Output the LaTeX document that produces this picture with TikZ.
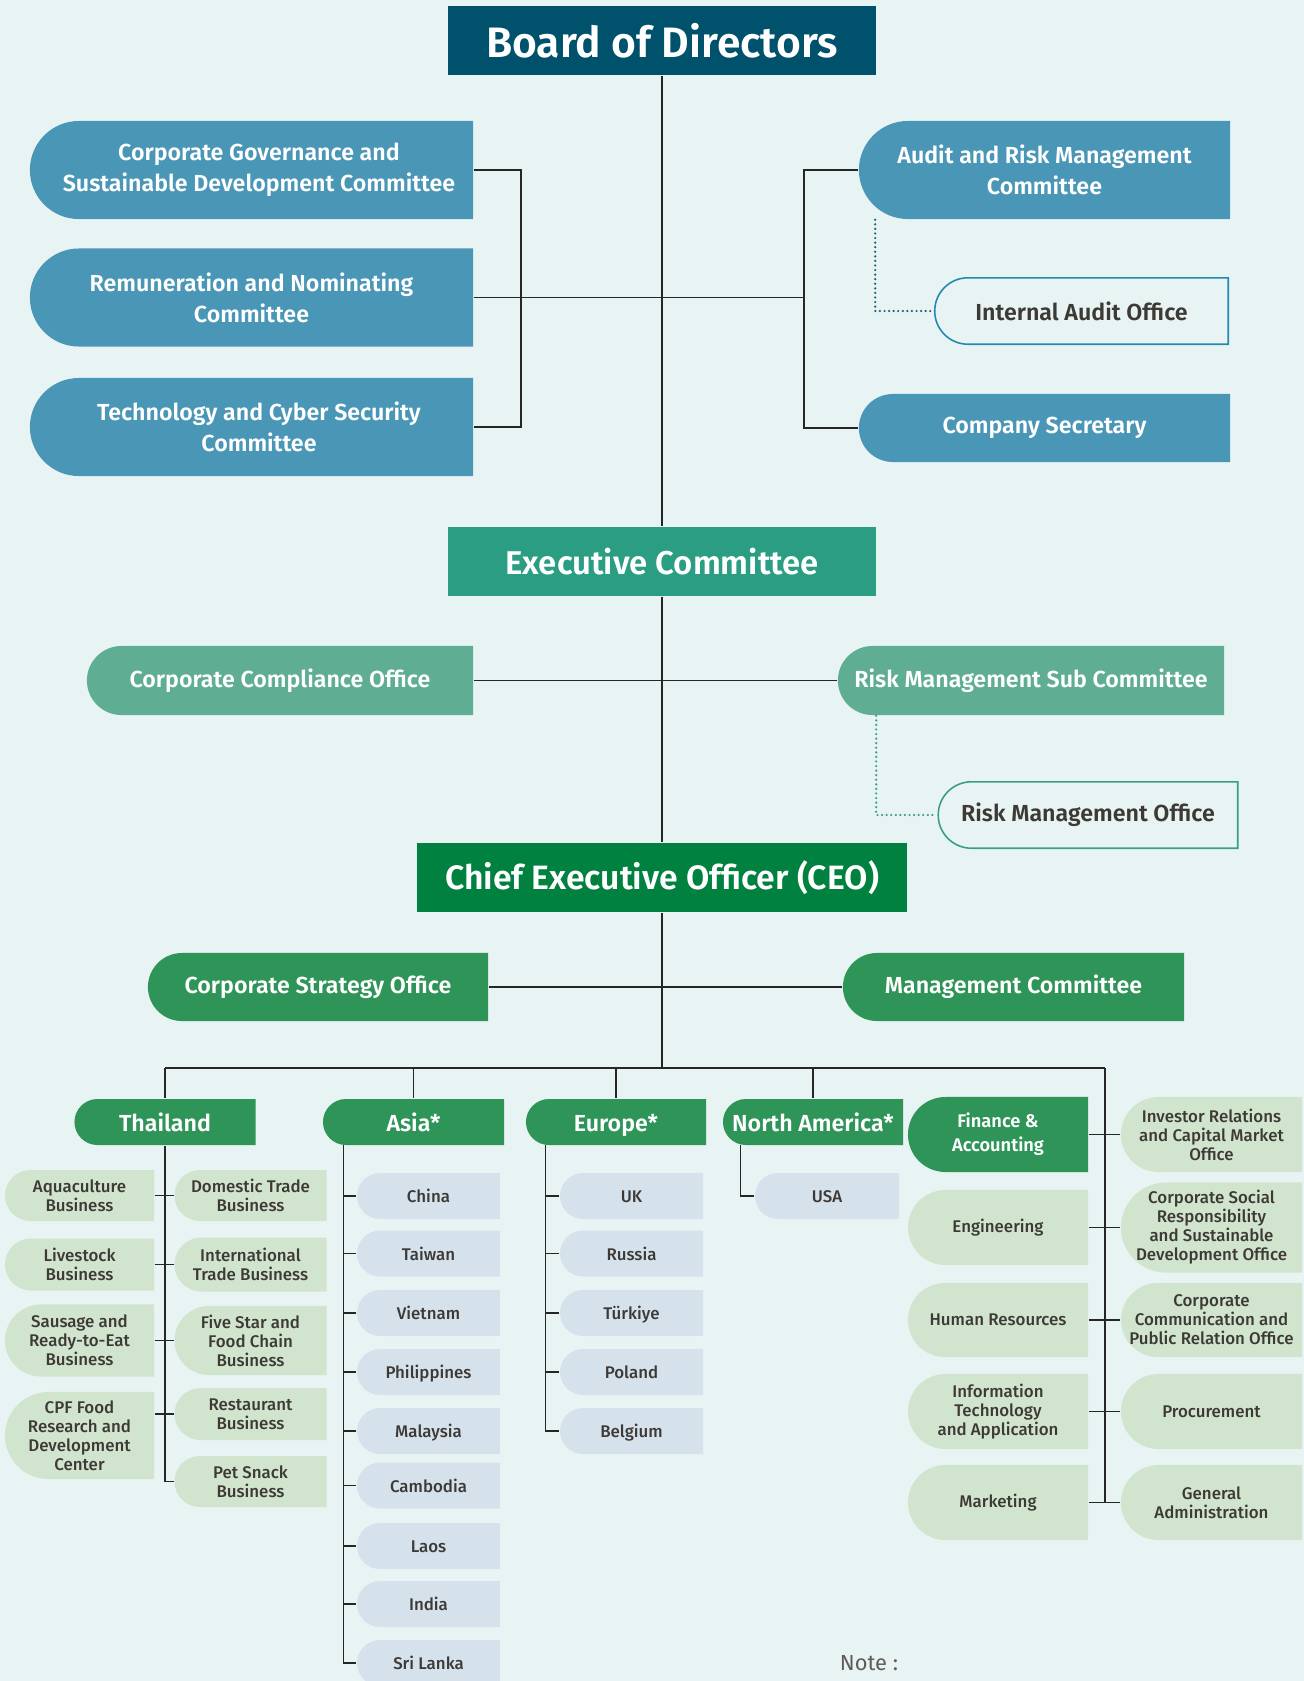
\documentclass[tikz,border=0pt]{standalone}
\usepackage{fontspec}
\setmainfont{Fira Sans}[BoldFont={Fira Sans SemiBold}]
\newfontfamily\medfont{Fira Sans Medium}
\usetikzlibrary{calc}

\definecolor{bgc}{HTML}{E8F4F3}
\definecolor{boardc}{HTML}{00526C}
\definecolor{commc}{HTML}{4A96B7}
\definecolor{auditc}{HTML}{2389AE}
\definecolor{dotc}{HTML}{1F5F77}
\definecolor{execc}{HTML}{2A9D82}
\definecolor{compc}{HTML}{5FAE94}
\definecolor{riskc}{HTML}{3A9E84}
\definecolor{ceoc}{HTML}{00813F}
\definecolor{stratc}{HTML}{2E9457}
\definecolor{lgreen}{HTML}{D1E4CD}
\definecolor{lblue}{HTML}{D5E2EC}
\definecolor{txtc}{HTML}{3D3935}
\definecolor{notec}{HTML}{5E5B58}
\definecolor{linec}{HTML}{262626}

\newcommand\txtboard{\fontsize{12.1}{14}\selectfont\bfseries}
\newcommand\txtexec{\fontsize{9.35}{11}\selectfont\bfseries}
\newcommand\txtceo{\fontsize{9.6}{11}\selectfont\bfseries}
\newcommand\txtmid{\fontsize{6.6}{8.8}\selectfont\bfseries}
\newcommand\txtsmall{\fontsize{4.8}{5.4}\selectfont\medfont}
\newcommand\txtfin{\fontsize{5.2}{6.8}\selectfont\bfseries}
\newcommand\txtnote{\fontsize{6.2}{7}\selectfont}

% box with a round left end, #1 = inset
\newcommand\lcurve[1]{%
  let \p1 = (path picture bounding box.south west),
      \p2 = (path picture bounding box.north east),
      \n1 = {(\y2-\y1)/2-#1} in
  ({\x2-#1},{\y2-#1}) -- ({\x1+\n1+#1},{\y2-#1})
  arc[start angle=90, end angle=270, radius=\n1] -- ({\x2-#1},{\y1+#1}) -- cycle}

\begin{document}
\begin{tikzpicture}[
            x = 0.01cm, y = -0.01cm, % one unit = one pixel of the chart
            line width = 0.4pt,
            wire/.style = {draw=linec},
            dots/.style = {line width=0.7pt, line cap=round, dash pattern=on 0pt off 1.3pt},
            lbox/.style = {rectangle, inner sep=0pt, align=center, path picture={\fill[#1] \lcurve{0pt};}},
            obox/.style = {rectangle, inner sep=0pt, align=center, text=txtc, font=\txtmid,
                           path picture={\draw[#1, line width=0.45pt] \lcurve{0.23pt};}},
            wh/.style 2 args = {minimum width=#1cm, minimum height=#2cm},
            cbox/.style = {lbox=#1, text=white, font=\txtmid},
            gbox/.style = {lbox=lgreen, text=txtc, font=\txtsmall},
            cntry/.style = {lbox=lblue, text=txtc, font=\txtsmall, text height=4.4pt, text depth=0.6pt, wh={1.43}{0.46}},
            hbox/.style = {lbox=stratc, text=white, font=\txtmid, text height=6.0pt, text depth=0.7pt, wh={1.80}{0.46}}
        ]

\fill[bgc] (0,0) rectangle (1304,1681);
\useasboundingbox (0,0) rectangle (1304,1681);

% board level
\node[rectangle, fill=boardc, text=white, font=\txtboard, wh={4.27}{0.69}] (board) at (662,40.5) {Board of Directors};
\node[cbox=commc, wh={4.43}{0.98}] (cgsd) at (251.5,170) {\hspace*{0.15cm}Corporate Governance and\\\hspace*{0.15cm}Sustainable Development Committee};
\node[cbox=commc, wh={4.43}{0.98}] (rnc) at (251.5,297.5) {Remuneration and Nominating\\Committee};
\node[cbox=commc, wh={4.43}{0.98}] (tcs) at (251.5,427) {\hspace*{0.15cm}Technology and Cyber Security\\\hspace*{0.15cm}Committee};
\node[cbox=commc, wh={3.71}{0.98}] (arm) at (1044.5,170) {Audit and Risk Management\\Committee};
\node[obox=auditc, wh={2.95}{0.68}] (iao) at (1081.5,311) {Internal Audit Office};
\node[cbox=commc, wh={3.71}{0.68}] (cs) at (1044.5,428) {Company Secretary};

\coordinate (lbr) at (521,297.5);
\coordinate (rbr) at (804,297.5);

% executive level
\node[rectangle, fill=execc, text=white, font=\txtexec, wh={4.27}{0.69}] (exec) at (662,561.5) {Executive Committee};
\node[cbox=compc, wh={3.86}{0.69}] (comp) at (280,680.5) {Corporate Compliance Office};
\node[cbox=compc, wh={3.86}{0.69}] (rsub) at (1031,680.5) {Risk Management Sub Committee};
\node[obox=riskc, wh={3.01}{0.68}] (rmo) at (1088,815) {Risk Management Office};

% ceo level
\node[rectangle, fill=ceoc, text=white, font=\txtceo, wh={4.90}{0.69}] (ceo) at (662,877.5) {Chief Executive Officer (CEO)};
\node[cbox=stratc, wh={3.40}{0.68}] (strat) at (318,987) {Corporate Strategy Office};
\node[cbox=stratc, wh={3.41}{0.68}] (mgmt) at (1013.5,987) {Management Committee};

\coordinate (busL) at (165,1068);
\coordinate (busR) at (1105,1068);

% business groups
\node[hbox, wh={1.81}{0.46}] (thai) at (165,1122) {Thailand};
\node[hbox, wh={1.81}{0.46}] (asia) at (413.5,1122) {Asia*};
\node[hbox] (euro) at (616,1122) {Europe*};
\node[hbox] (nam) at (813,1122) {North America*};

\coordinate (av) at (343.5,1145);
\coordinate (ev) at (545.5,1145);
\coordinate (nv) at (740.5,1145);

% Thailand
\node[gbox, wh={1.49}{0.51}] (aqua) at (79.5,1195.5) {Aquaculture\\Business};
\node[gbox, wh={1.49}{0.52}] (live) at (79.5,1264.5) {Livestock\\Business};
\node[gbox, wh={1.49}{0.72}] (saus) at (79.5,1340.5) {Sausage and\\Ready-to-Eat\\Business};
\node[gbox, wh={1.49}{0.87}] (rnd) at (79.5,1435.5) {CPF Food\\Research and\\Development\\Center};
\node[gbox, wh={1.52}{0.51}] (dom) at (250.5,1195.5) {Domestic Trade\\Business};
\node[gbox, wh={1.52}{0.54}] (intl) at (250.5,1264.5) {International\\Trade Business};
\node[gbox, wh={1.52}{0.69}] (five) at (250.5,1340.5) {Five Star and\\Food Chain\\Business};
\node[gbox, wh={1.52}{0.52}] (rest) at (250.5,1414) {Restaurant\\Business};
\node[gbox, wh={1.52}{0.51}] (pet) at (250.5,1481.5) {Pet Snack\\Business};

% Asia
\node[cntry] (chi) at (428.5,1196) {China};
\node[cntry] (twn) at (428.5,1253.5) {Taiwan};
\node[cntry] (vnm) at (428.5,1313) {Vietnam};
\node[cntry] (phl) at (428.5,1372) {Philippines};
\node[cntry] (mys) at (428.5,1431) {Malaysia};
\node[cntry] (khm) at (428.5,1485.5) {Cambodia};
\node[cntry] (lao) at (428.5,1546) {Laos};
\node[cntry] (ind) at (428.5,1604) {India};
\node[cntry] (sri) at (428.5,1663) {Sri Lanka};

% Europe
\node[cntry] (uk) at (631.5,1196) {UK};
\node[cntry] (rus) at (631.5,1253.5) {Russia};
\node[cntry] (tur) at (631.5,1313) {Türkiye};
\node[cntry] (pol) at (631.5,1372) {Poland};
\node[cntry] (bel) at (631.5,1431) {Belgium};

% North America
\node[cntry, wh={1.44}{0.46}] (usa) at (827,1196) {USA};

% functions
\node[lbox=stratc, text=white, font=\txtfin, wh={1.80}{0.75}] (fin) at (998,1134.5) {Finance \&\\Accounting};
\node[gbox, wh={1.80}{0.75}] (eng) at (998,1227.5) {Engineering};
\node[gbox, wh={1.80}{0.74}] (hr) at (998,1320) {Human Resources};
\node[gbox, wh={1.80}{0.75}] (it) at (998,1411.5) {Information\\Technology\\and Application};
\node[gbox, wh={1.80}{0.75}] (mkt) at (998,1502.5) {Marketing};
\node[gbox, wh={1.81}{0.75}] (ir) at (1211.5,1134.5) {Investor Relations\\and Capital Market\\Office};
\node[gbox, wh={1.81}{0.90}] (csr) at (1211.5,1227.5) {Corporate Social\\Responsibility\\and Sustainable\\Development Office};
\node[gbox, wh={1.81}{0.74}] (ccpr) at (1211.5,1320) {Corporate\\Communication and\\Public Relation Office};
\node[gbox, wh={1.81}{0.75}] (proc) at (1211.5,1411.5) {Procurement};
\node[gbox, wh={1.81}{0.75}] (ga) at (1211.5,1502.5) {General\\Administration};

\node[text=notec, font=\txtnote] (note) at (869,1663) {Note :};

% lines
\draw[wire] (board) -- (exec);
\draw[wire] (exec) -- (ceo);
\draw[wire] (ceo) -- (ceo |- busL);
\draw[wire] (cgsd) -| (lbr) |- (tcs);
\draw[wire] (rnc) -- (rbr);
\draw[wire] (arm) -| (rbr) |- (cs);
\draw[dots, draw=dotc] ([xshift=0.17cm]arm.south west) |- (iao);
\draw[wire] (comp) -- (rsub);
\draw[dots, draw=riskc] ([xshift=0.39cm]rsub.south west) |- (rmo);
\draw[wire] (strat) -- (mgmt);

\draw[wire] (busL) -- (busR);
\draw[wire] (busL) -- (thai);
\draw[wire] (asia |- busL) -- (asia);
\draw[wire] (euro |- busL) -- (euro);
\draw[wire] (nam |- busL) -- (nam);

\draw[wire] (thai) |- (pet);
\draw[wire] (aqua) -- (dom);
\draw[wire] (live) -- (intl);
\draw[wire] (saus) -- (five);
\draw[wire] (rest.west) -- (rest.west -| rnd.east);

\draw[wire] (av) |- (sri);
\draw[wire] (chi.west) -- (chi.west -| av);
\draw[wire] (twn.west) -- (twn.west -| av);
\draw[wire] (vnm.west) -- (vnm.west -| av);
\draw[wire] (phl.west) -- (phl.west -| av);
\draw[wire] (mys.west) -- (mys.west -| av);
\draw[wire] (khm.west) -- (khm.west -| av);
\draw[wire] (lao.west) -- (lao.west -| av);
\draw[wire] (ind.west) -- (ind.west -| av);

\draw[wire] (ev) |- (bel);
\draw[wire] (uk.west) -- (uk.west -| ev);
\draw[wire] (rus.west) -- (rus.west -| ev);
\draw[wire] (tur.west) -- (tur.west -| ev);
\draw[wire] (pol.west) -- (pol.west -| ev);

\draw[wire] (nv) |- (usa);

\draw[wire] (busR) -- (busR |- mkt);
\draw[wire] (fin) -- (ir);
\draw[wire] (eng) -- (csr);
\draw[wire] (hr) -- (ccpr);
\draw[wire] (it) -- (proc);
\draw[wire] (mkt) -- (ga);
\end{tikzpicture}
\end{document}
